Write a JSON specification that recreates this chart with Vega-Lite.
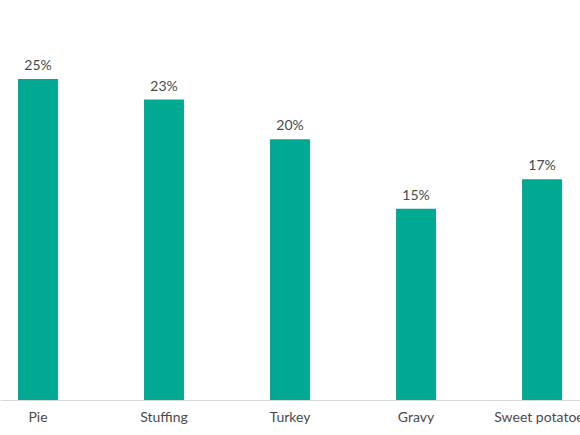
{
  "$schema": "https://vega.github.io/schema/vega-lite/v6.json",
  "width": 580,
  "height": 321,
  "autosize": {"type": "none"},
  "padding": {"left": 0, "top": 79, "right": 0, "bottom": 35},
  "background": "white",
  "config": {
    "view": {"stroke": null},
    "font": "Lato"
  },
  "data": {
    "values": [
      {"food": "Pie", "share": 0.25},
      {"food": "Stuffing", "share": 0.234},
      {"food": "Turkey", "share": 0.203},
      {"food": "Gravy", "share": 0.149},
      {"food": "Sweet potatoes", "share": 0.172}
    ]
  },
  "encoding": {
    "x": {
      "field": "food",
      "type": "nominal",
      "sort": null,
      "scale": {"paddingInner": 0.683, "paddingOuter": 0.143},
      "axis": {
        "title": null,
        "labelAngle": 0,
        "domain": true,
        "domainColor": "#d9d9d9",
        "domainWidth": 1,
        "ticks": false,
        "labelPadding": 10,
        "labelFontSize": 14,
        "labelColor": "#4a4a4a",
        "labelFont": "Lato"
      }
    },
    "y": {
      "field": "share",
      "type": "quantitative",
      "scale": {"domain": [0, 0.25], "nice": false},
      "axis": null
    }
  },
  "layer": [
    {"mark": {"type": "bar", "color": "#00a992"}},
    {
      "mark": {"type": "text", "baseline": "bottom", "dy": -6, "fontSize": 14, "color": "#4a4a4a", "font": "Lato"},
      "encoding": {
        "text": {"field": "share", "type": "quantitative", "format": ".0%"}
      }
    }
  ]
}
